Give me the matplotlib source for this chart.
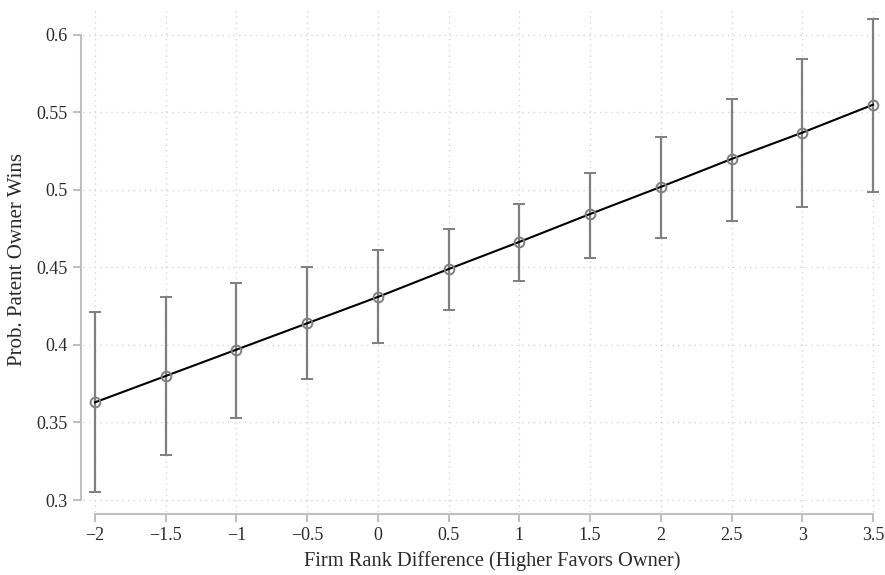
import numpy as np
import matplotlib.pyplot as plt

plt.rcParams['font.family'] = ['Liberation Serif', 'DejaVu Serif']
plt.rcParams['axes.unicode_minus'] = True

# firm rank difference and predicted probability with 95% CI
x = [-2, -1.5, -1, -0.5, 0, 0.5, 1, 1.5, 2, 2.5, 3, 3.5]
prob = [0.363, 0.380, 0.397, 0.414, 0.431, 0.449, 0.4665, 0.4845, 0.502, 0.520, 0.537, 0.555]
lo = [0.305, 0.329, 0.353, 0.378, 0.401, 0.4226, 0.4413, 0.456, 0.469, 0.480, 0.489, 0.499]
hi = [0.4215, 0.431, 0.440, 0.450, 0.4613, 0.4748, 0.491, 0.511, 0.5345, 0.559, 0.5845, 0.6105]

xticks = [-2, -1.5, -1, -0.5, 0, 0.5, 1, 1.5, 2, 2.5, 3, 3.5]
xticklabels = ['\u22122', '\u22121.5', '\u22121', '\u22120.5', '0', '0.5', '1', '1.5', '2', '2.5', '3', '3.5']
yticks = [0.3, 0.35, 0.4, 0.45, 0.5, 0.55, 0.6]
yticklabels = ['0.3', '0.35', '0.4', '0.45', '0.5', '0.55', '0.6']

W, H = 885, 575
fig = plt.figure(figsize=(W/100, H/100), dpi=100)
ax = fig.add_axes([83/W, 1-512/H, 800/W, 504/H])

prob = np.array(prob); lo = np.array(lo); hi = np.array(hi)
ax.errorbar(x, prob, yerr=[prob-lo, hi-prob], fmt='none', ecolor='#7f7f7f',
            elinewidth=1.6, capsize=4.5, capthick=1.4, zorder=2)
ax.plot(x, prob, color='black', lw=1.5, zorder=3)
ax.plot(x, prob, 'o', ms=7, mfc='none', mec='#7f7f7f', mew=1.4, zorder=4)

ax.set_xlim(-2.0848, 3.5707)
ax.set_ylim(0.29226, 0.6174)

ax.set_xticks(xticks)
ax.set_xticklabels(xticklabels)
ax.set_yticks(yticks)
ax.set_yticklabels(yticklabels)

ax.grid(True, color='#d4d4d4', linestyle=(0, (1, 3)), lw=1)
ax.set_axisbelow(True)

for s in ['top', 'right']:
    ax.spines[s].set_visible(False)
ax.spines['left'].set_position(('outward', 1.5))
ax.spines['bottom'].set_position(('outward', 1.5))
ax.spines['left'].set_bounds(0.3, 0.6)
ax.spines['bottom'].set_bounds(-2, 3.5)
for s in ['left', 'bottom']:
    ax.spines[s].set_color('#bfbfbf')
    ax.spines[s].set_linewidth(1.5)
ax.tick_params(axis='both', colors='#bfbfbf', labelcolor='#2a2a2a',
               length=6, width=1.5, labelsize=13)

ax.set_xlabel('Firm Rank Difference (Higher Favors Owner)', fontsize=14.7, color='#2a2a2a', labelpad=5)
ax.xaxis.label.set_x(0.5 + 9/800)
ax.set_ylabel('Prob. Patent Owner Wins', fontsize=15, color='#2a2a2a', labelpad=7)

fig.savefig('out.png', dpi=100)
